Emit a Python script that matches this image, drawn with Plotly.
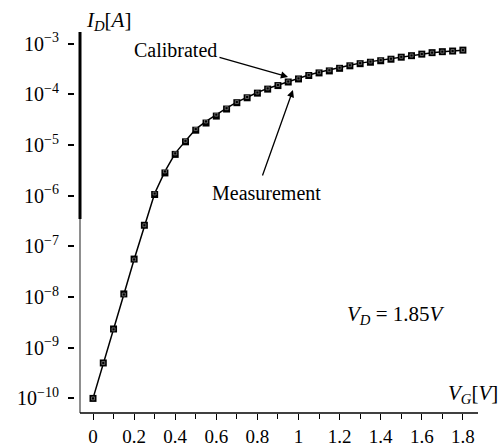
import plotly.graph_objects as go

# ---- data ----
vg = [round(i * 0.05, 2) for i in range(37)]  # gate voltage [V]

id_measured = [1.0e-10, 5.0e-10, 2.34e-9, 1.15e-8, 5.6e-8, 2.6e-7, 1.05e-6, 2.8e-6,
               6.5e-6, 1.15e-5, 1.95e-5, 2.7e-5, 3.7e-5, 5.1e-5, 6.8e-5, 8.5e-5,
               1.05e-4, 1.26e-4, 1.48e-4, 1.74e-4, 2.0e-4, 2.34e-4, 2.63e-4, 2.88e-4,
               3.24e-4, 3.63e-4, 4.0e-4, 4.27e-4, 4.57e-4, 4.9e-4, 5.37e-4, 5.75e-4,
               6.17e-4, 6.6e-4, 6.9e-4, 7.1e-4, 7.4e-4]

id_calibrated = [1.0e-10, 5.0e-10, 2.3e-9, 1.12e-8, 5.5e-8, 2.6e-7, 1.1e-6, 3.0e-6,
                 6.8e-6, 1.2e-5, 2.05e-5, 2.9e-5, 3.95e-5, 5.3e-5, 7.0e-5, 8.8e-5,
                 1.08e-4, 1.3e-4, 1.52e-4, 1.78e-4, 2.05e-4, 2.4e-4, 2.7e-4, 2.97e-4,
                 3.33e-4, 3.72e-4, 4.1e-4, 4.4e-4, 4.7e-4, 5.0e-4, 5.45e-4, 5.8e-4,
                 6.2e-4, 6.6e-4, 6.9e-4, 7.1e-4, 7.4e-4]

y_tick_vals = [1e-3, 1e-4, 1e-5, 1e-6, 1e-7, 1e-8, 1e-9, 1e-10]
y_tick_text = ["10<sup>−3</sup>", "10<sup>−4</sup>", "10<sup>−5</sup>", "10<sup>−6</sup>",
               "10<sup>−7</sup>", "10<sup>−8</sup>", "10<sup>−9</sup>", "10<sup>−10</sup>"]
x_tick_vals = [0, 0.2, 0.4, 0.6, 0.8, 1.0, 1.2, 1.4, 1.6, 1.8]
x_tick_text = ["0", "0.2", "0.4", "0.6", "0.8", "1", "1.2", "1.4", "1.6", "1.8"]

FONT = "Liberation Serif"
W, H = 501, 446
L, R, T, B = 75, 23, 32, 33
PW, PH = W - L - R, H - T - B


def px(x):
    return (x - L) / PW


def py(y):
    return (H - B - y) / PH


fig = go.Figure()
fig.add_trace(go.Scatter(
    x=vg, y=id_measured, mode="markers", name="Measurement",
    marker=dict(symbol="square", size=7, color="black"),
))
fig.add_trace(go.Scatter(
    x=vg, y=id_calibrated, mode="lines+markers", name="Calibrated",
    line=dict(color="black", width=1.5),
    marker=dict(symbol="square-open", size=3, color="#9a9a9a", line=dict(width=0.6)),
))

annotations = [
    dict(text="<i>I</i><sub><i>D</i></sub>[<i>A</i>]", x=px(84), y=py(21), xanchor="left",
         yanchor="middle", font=dict(size=21)),
    dict(text="Calibrated", x=px(132), y=py(50), xanchor="left", yanchor="middle",
         font=dict(size=20)),
    dict(text="Measurement", x=px(210), y=py(193), xanchor="left", yanchor="middle",
         font=dict(size=20)),
    dict(text="<i>V</i><sub><i>D</i></sub> = 1.85<i>V</i>", x=px(345), y=py(315),
         xanchor="left", yanchor="middle", font=dict(size=21)),
    dict(text="<i>V</i><sub><i>G</i></sub>[<i>V</i>]", x=px(500), y=py(394),
         xanchor="right", yanchor="middle", font=dict(size=21)),
]
for a in annotations:
    a.update(xref="paper", yref="paper", showarrow=False)
    a["font"].update(family=FONT, color="black")

# arrows (heads in data coordinates; log axis -> log10 position)
annotations.append(dict(x=0.949, y=-3.66, xref="x", yref="y", text="", showarrow=True,
                        ax=-70, ay=-20, arrowhead=2, arrowsize=1.1, arrowwidth=1.3,
                        arrowcolor="black"))
annotations.append(dict(x=0.973, y=-3.917, xref="x", yref="y", text="", showarrow=True,
                        ax=-31, ay=87, arrowhead=2, arrowsize=1.1, arrowwidth=1.3,
                        arrowcolor="black"))

shapes = [
    dict(type="line", xref="paper", yref="paper", x0=px(80), x1=px(80), y0=py(219), y1=py(32),
         line=dict(color="black", width=3)),
    dict(type="line", xref="paper", yref="paper", x0=px(80), x1=px(80), y0=py(413), y1=py(219),
         line=dict(color="#444444", width=1.2)),
    dict(type="line", xref="paper", yref="paper", x0=px(80), x1=px(478), y0=py(413), y1=py(413),
         line=dict(color="black", width=1.5)),
]

fig.update_layout(
    width=W, height=H,
    margin=dict(l=L, r=R, t=T, b=B, pad=0, autoexpand=False),
    paper_bgcolor="white", plot_bgcolor="white",
    showlegend=False,
    font=dict(family=FONT, color="black", size=20),
    annotations=annotations,
    shapes=shapes,
    xaxis=dict(range=[(L - 93) / 205.5, (W - R - 93) / 205.5], showgrid=False, zeroline=False,
               showline=False, tickvals=x_tick_vals, ticktext=x_tick_text, automargin=False,
               ticks="outside", ticklen=6, tickwidth=1.3, tickcolor="black",
               minor=dict(tickvals=[0.1, 0.3, 0.5, 0.7, 0.9, 1.1, 1.3, 1.5, 1.7],
                          ticks="outside", ticklen=5, tickwidth=1, tickcolor="black"),
               tickfont=dict(size=19, family=FONT), ticklabelstandoff=0),
    yaxis=dict(type="log", range=[-3 - (H - B - 43.5) / 50.7, -3 + (43.5 - T) / 50.7],
               showgrid=False, zeroline=False, showline=False, automargin=False,
               tickvals=y_tick_vals, ticktext=y_tick_text,
               ticks="outside", ticklen=6, tickwidth=2, tickcolor="black",
               tickfont=dict(size=20, family=FONT), ticklabelstandoff=5),
)

fig.write_html("out.html", config={"displayModeBar": False},
               post_script="document.body.style.margin='0';document.body.style.overflow='hidden';")
